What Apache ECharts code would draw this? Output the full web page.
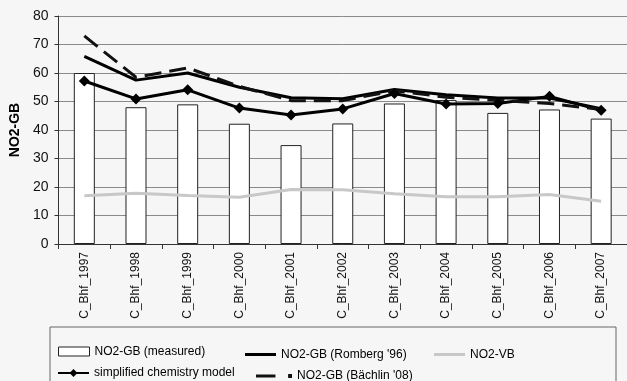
<!DOCTYPE html>
<html>
<head>
<meta charset="utf-8">
<script src="https://cdn.jsdelivr.net/npm/echarts@6/dist/echarts.min.js"></script>
<style>
  html, body { margin: 0; padding: 0; background: #f6f6f6; }
  #chart { width: 627px; height: 381px; }
</style>
</head>
<body>
<div id="chart"></div>
<script>
var years = ['C_Bhf_1997', 'C_Bhf_1998', 'C_Bhf_1999', 'C_Bhf_2000', 'C_Bhf_2001', 'C_Bhf_2002',
  'C_Bhf_2003', 'C_Bhf_2004', 'C_Bhf_2005', 'C_Bhf_2006', 'C_Bhf_2007']
var measured = [60, 48, 49, 42.2, 34.7, 42.3, 49.3, 50.5, 46, 47.2, 44]
var romberg = [65.8, 57.5, 60, 55, 51.3, 51, 54.2, 52.4, 51.2, 51.2, 47.5]
var baechlin = [73, 58.5, 61.8, 55.3, 50.3, 50.3, 53.8, 51.5, 50.4, 49.3, 47.2]
var chemistry = [57.2, 50.9, 54.1, 47.7, 45.3, 47.4, 52.8, 49.1, 49.3, 51.8, 46.9]
var vb = [16.9, 17.8, 17, 16.4, 19.1, 19, 17.6, 16.6, 16.6, 17.4, 15]

var chart = echarts.init(document.getElementById('chart'))
var font = 'Liberation Sans, Arial, sans-serif'
var legendText = { fontFamily: font, fontSize: 12, color: '#000' }

// one legend per item so each sits where it does in the original box
function legendItem(name, left, centerY, w, h, icon, extra) {
  var l = {
    left: left, top: centerY - h / 2, padding: 0,
    itemWidth: w, itemHeight: h,
    textStyle: legendText,
    data: [icon ? { name: name, icon: icon } : name]
  }
  return Object.assign(l, extra || {})
}

chart.setOption({
  backgroundColor: '#f6f6f6',
  animation: false,
  grid: { left: 53, right: 0, top: 16, bottom: 137 },
  graphic: [{
    type: 'rect',
    shape: { x: 50, y: 327, width: 566, height: 60 },
    style: { fill: 'none', stroke: '#666', lineWidth: 1 },
    silent: true
  }],
  legend: [
    legendItem('NO2-GB (measured)', 58, 350, 31, 9, 'rect',
      { itemStyle: { color: '#fff', borderColor: '#222', borderWidth: 1 } }),
    legendItem('NO2-GB (Romberg \'96)', 245, 350, 31, 3, 'path://M0,0H31V3H0Z'),
    legendItem('NO2-VB', 434, 350, 31, 3, 'path://M0,0H31V3H0Z'),
    legendItem('simplified chemistry model', 57, 372, 31, 10, null),
    legendItem('NO2-GB (B\u00e4chlin \'08)', 256, 372, 36, 4, 'path://M0,0.5H20V3.5H0Z M33,0H37V4H33Z')
  ],
  xAxis: {
    type: 'category',
    data: years,
    axisLine: { lineStyle: { color: '#333', width: 1 } },
    axisTick: { show: true, length: 5, lineStyle: { color: '#333' } },
    axisLabel: { rotate: 90, interval: 0, fontFamily: font, fontSize: 12, color: '#111', margin: 8 }
  },
  yAxis: {
    type: 'value',
    min: 0, max: 80, interval: 10,
    name: 'NO2-GB',
    nameLocation: 'middle',
    nameGap: 28,
    nameTextStyle: { fontFamily: font, fontSize: 14, fontWeight: 'bold', color: '#000' },
    axisLine: { show: true, lineStyle: { color: '#333' } },
    axisTick: { show: true, length: 4, lineStyle: { color: '#333' } },
    axisLabel: { fontFamily: font, fontSize: 14, color: '#111', margin: 10 },
    splitLine: { lineStyle: { color: '#8a8a8a', width: 1 } }
  },
  series: [{
    name: 'NO2-GB (measured)',
    type: 'bar',
    barWidth: 21,
    itemStyle: { color: '#fff', borderColor: '#222', borderWidth: 1 },
    data: measured
  }, {
    name: 'NO2-GB (Romberg \'96)',
    type: 'line',
    symbol: 'none',
    lineStyle: { color: '#000', width: 3 },
    itemStyle: { color: '#000' },
    data: romberg
  }, {
    name: 'NO2-VB',
    type: 'line',
    symbol: 'none',
    lineStyle: { color: '#c8c8c8', width: 3 },
    itemStyle: { color: '#c8c8c8' },
    data: vb
  }, {
    name: 'simplified chemistry model',
    type: 'line',
    symbol: 'diamond',
    symbolSize: 11,
    lineStyle: { color: '#000', width: 3 },
    itemStyle: { color: '#000' },
    data: chemistry
  }, {
    name: 'NO2-GB (B\u00e4chlin \'08)',
    type: 'line',
    symbol: 'none',
    lineStyle: { color: '#111', width: 3, type: [17, 8] },
    itemStyle: { color: '#111' },
    data: baechlin
  }]
})
</script>
</body>
</html>
